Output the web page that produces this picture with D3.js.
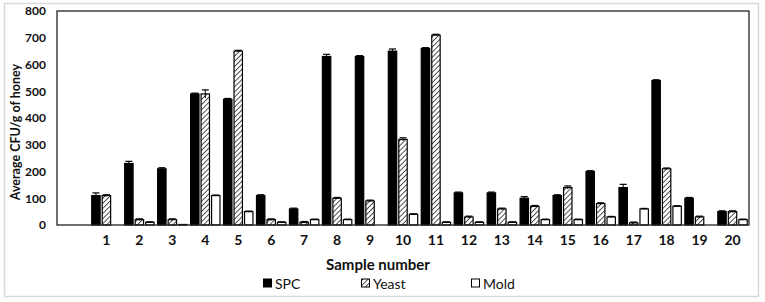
<!DOCTYPE html>
<html><head><meta charset="utf-8">
<script src="https://cdn.jsdelivr.net/npm/d3@7"></script>
<style>
html,body{margin:0;padding:0;background:#fff;}
svg{display:block;}
text{font-family:Lato,"Open Sans",sans-serif;}
</style></head>
<body>
<svg id="chart" width="765" height="302"></svg>
<script>
const categories = ["1","2","3","4","5","6","7","8","9","10","11","12","13","14","15","16","17","18","19","20"];
const seriesNames = ["SPC","Yeast","Mold"];
const spc   = [110,230,210,490,470,110,60,630,630,650,660,120,120,100,110,200,140,540,100,50];
const yeast = [110,20,20,490,650,20,10,100,90,320,710,30,60,70,140,80,8,210,30,50];
const mold  = [0,10,2,110,50,10,20,20,0,40,10,10,10,20,20,30,60,70,0,20];
const spcErr   = [10,8,4,3,3,3,3,8,3,8,3,3,3,6,3,3,12,3,3,3];
const yeastErr = [3,3,3,15,3,3,3,3,3,6,3,3,3,3,6,3,3,3,3,3];
const moldErr  = [0,2,0,2,2,2,2,2,0,2,2,2,2,2,2,2,2,2,0,2];
const yTicks = [0,100,200,300,400,500,600,700,800];

const values = {SPC: spc, Yeast: yeast, Mold: mold};
const errors = {SPC: spcErr, Yeast: yeastErr, Mold: moldErr};

const svg = d3.select("#chart");
const L = 57, R = 749, T = 11, B = 225;

svg.append("rect").attr("x",4.5).attr("y",3.5).attr("width",754).attr("height",293)
  .attr("fill","#fff").attr("stroke","#d9d9d9").attr("stroke-width",1.5);

const defs = svg.append("defs");
const pat = defs.append("pattern").attr("id","hatch").attr("patternUnits","userSpaceOnUse")
  .attr("width",3.6).attr("height",3.6).attr("patternTransform","rotate(45)");
pat.append("rect").attr("width",3.6).attr("height",3.6).attr("fill","#fff");
pat.append("line").attr("x1",0).attr("y1",0).attr("x2",0).attr("y2",3.6)
  .attr("stroke","#333").attr("stroke-width",1.7);

const slots = ["", ...categories];
const x0 = d3.scaleBand().domain(slots).range([L, R]).padding(0);
const half = 14.7;
const x1 = d3.scaleBand().domain(seriesNames).range([-half, half]).paddingInner(0.2).paddingOuter(0);
const y = d3.scaleLinear().domain([0,800]).range([B, T]);

const fills = {SPC:"#000", Yeast:"url(#hatch)", Mold:"#fff"};

const data = [];
categories.forEach((c,i)=>{
  seriesNames.forEach(s=>{
    data.push({cat:c, s, v: values[s][i], e: errors[s][i]});
  });
});

const cx = d => x0(d.cat) + x0.bandwidth()/2 + x1(d.s) + x1.bandwidth()/2;

const g = svg.append("g");
g.selectAll("rect.bar").data(data.filter(d=>d.v>0)).join("rect")
  .attr("class","bar")
  .attr("x", d=> x0(d.cat) + x0.bandwidth()/2 + x1(d.s))
  .attr("y", d=> y(d.v))
  .attr("width", x1.bandwidth())
  .attr("height", d=> y(0)-y(d.v))
  .attr("fill", d=> fills[d.s])
  .attr("stroke","#000").attr("stroke-width",1.2);

const eb = g.selectAll("g.err").data(data.filter(d=>d.v>0 && d.e>0)).join("g").attr("class","err");
eb.append("line")
  .attr("x1", cx).attr("x2", cx)
  .attr("y1", d=> y(d.v+d.e)).attr("y2", d=> y(Math.max(0,d.v-d.e)))
  .attr("stroke","#000").attr("stroke-width",1);
eb.append("line")
  .attr("x1", d=> cx(d) - 3.5).attr("x2", d=> cx(d) + 3.5)
  .attr("y1", d=> y(d.v+d.e)).attr("y2", d=> y(d.v+d.e))
  .attr("stroke","#000").attr("stroke-width",1.2);

svg.append("rect").attr("x",L).attr("y",T).attr("width",R-L).attr("height",B-T)
  .attr("fill","none").attr("stroke","#222").attr("stroke-width",1.3);

const yAxis = d3.axisLeft(y).tickValues(yTicks).tickSize(0).tickPadding(11);
const ya = svg.append("g").attr("transform",`translate(${L},0)`).call(yAxis);
ya.select(".domain").remove();
ya.selectAll("text").attr("font-family","Lato, sans-serif").attr("font-size",12).attr("font-weight",700).attr("fill","#111");

const xAxis = d3.axisBottom(x0).tickValues(categories).tickSize(0).tickPadding(10);
const xa = svg.append("g").attr("transform",`translate(0,${B})`).call(xAxis);
xa.select(".domain").remove();
xa.selectAll("text").attr("font-family","Lato, sans-serif").attr("font-size",14).attr("font-weight",700).attr("fill","#111");

svg.append("text").attr("x",378).attr("y",270).attr("text-anchor","middle")
  .attr("font-size",15).attr("font-weight",700).attr("fill","#111").text("Sample number");
svg.append("text").attr("transform",`translate(20,${(T+B)/2+14}) rotate(-90)`).attr("text-anchor","middle")
  .attr("font-size",12.5).attr("font-weight",700).attr("fill","#111").text("Average CFU/g of honey");

const legX = {SPC:263, Yeast:361, Mold:471};
const lg = svg.append("g");
seriesNames.forEach(s=>{
  lg.append("rect").attr("x",legX[s]+0.5).attr("y",279).attr("width",8).attr("height",8)
    .attr("fill",fills[s]).attr("stroke","#000").attr("stroke-width",1);
  lg.append("text").attr("x",legX[s]+12).attr("y",288.5).attr("font-size",14).attr("fill","#111").text(s);
});
</script>
</body></html>
